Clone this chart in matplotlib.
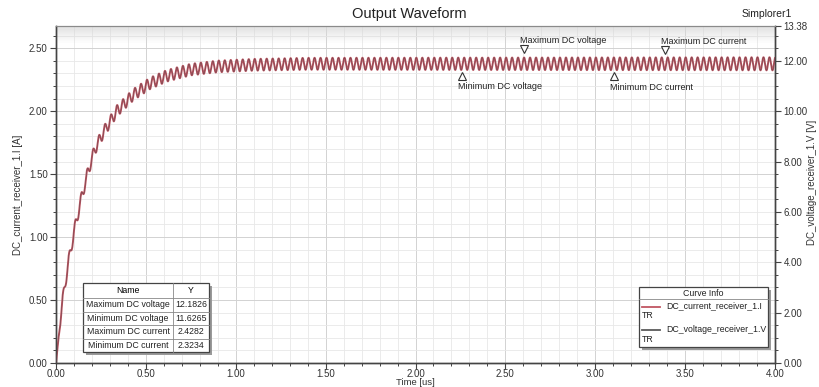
import numpy as np
import matplotlib.pyplot as plt
from matplotlib.ticker import MultipleLocator, FixedLocator
from matplotlib.transforms import ScaledTranslation
from matplotlib.patches import Rectangle

plt.rcParams['font.family'] = ['Liberation Sans', 'DejaVu Sans']

# mean level of the receiver current (time in us, current in A)
t_mean = [0, 0.032, 0.069, 0.106, 0.143, 0.18, 0.217, 0.263, 0.338, 0.43, 0.523,
          0.616, 0.75, 0.9, 1.1, 1.4, 4.0]
i_mean = [0, 0.45, 0.80, 1.08, 1.32, 1.53, 1.70, 1.83, 2.00, 2.13, 2.22,
          2.28, 2.33, 2.355, 2.368, 2.376, 2.376]
# ripple half amplitude (A) and period (us)
t_amp = [0, 0.03, 4.0]
i_amp = [0, 0.045, 0.052]
ripple_period = 0.0333
ripple_peak_t = 2.604
load_ratio = 5.0          # V / I, right axis 13.38 <-> left axis 2.676

# marker table
names = ['Maximum DC voltage', 'Minimum DC voltage', 'Maximum DC current', 'Minimum DC current']
yvals = [12.1826, 11.6265, 2.4282, 2.3234]
ytxt = ['12.1826', '11.6265', '2.4282', '2.3234']
mark_t = [2.604, 2.257, 3.388, 3.104]

t = np.linspace(0, 4, 9000)
base = np.interp(t, t_mean, i_mean)
amp = np.interp(t, t_amp, i_amp)
cur = base + amp * np.cos(2 * np.pi * (t - ripple_peak_t) / ripple_period)
volt = cur * load_ratio

fig = plt.figure(figsize=(8.19, 3.87), dpi=100)
ax = fig.add_axes([56/819, 1-363/387, 719/819, 337/387])
ax2 = ax.twinx()

vtop = 13.38
ax.set_xlim(0, 4)
ax.set_ylim(0, vtop / load_ratio)
ax2.set_ylim(0, vtop)

# light shading band along the top of the plot
nb = 14
for k in range(nb):
    ax.add_patch(Rectangle((0, 1 - (k + 1) * 0.0035), 1, 0.0035, transform=ax.transAxes,
                           facecolor='#d8d8d8', alpha=0.75 * (1 - k / nb), lw=0, zorder=2))

ax.xaxis.set_major_locator(MultipleLocator(0.5))
ax.xaxis.set_minor_locator(MultipleLocator(0.1))
ax.yaxis.set_major_locator(MultipleLocator(0.5))
ax.yaxis.set_minor_locator(MultipleLocator(0.1))
ax.grid(which='minor', color='#e8e8e8', lw=0.6, zorder=1)
ax.grid(which='major', color='#d2d2d2', lw=0.7, zorder=1)
ax.set_axisbelow(True)

ax.xaxis.set_major_formatter(lambda v, p: f'{v:.2f}')
ax.yaxis.set_major_formatter(lambda v, p: f'{v:.2f}')
ax2.yaxis.set_major_locator(FixedLocator([0, 2, 4, 6, 8, 10, 12, vtop]))
ax2.yaxis.set_minor_locator(MultipleLocator(0.5))
ax2.yaxis.set_major_formatter(lambda v, p: f'{v:.2f}')

for a in (ax, ax2):
    a.tick_params(which='major', length=4, width=0.8, color='#444444', labelsize=7,
                  labelcolor='#333333', pad=2)
    a.tick_params(which='minor', length=2.5, width=0.7, color='#444444')
    for s in ['left', 'bottom', 'right']:
        a.spines[s].set_color('#444444')
        a.spines[s].set_linewidth(1.0)
    a.spines['top'].set_color('#8a8a8a')
ax.tick_params(axis='x', which='major', pad=0.5)

ax.plot(t, cur, color='#c05662', lw=1.4, zorder=3)
ax2.plot(t, volt, color='#6a4850', lw=0.4, zorder=3)

ax.set_xlabel('Time [us]', fontsize=6.8, color='#333333', labelpad=-1)
ax.set_ylabel('DC_current_receiver_1.I [A]', fontsize=7, color='#333333', labelpad=4)
fig.text(0.991, 0.53, 'DC_voltage_receiver_1.V [V]', rotation=90, fontsize=7,
         color='#333333', ha='center', va='center')

fig.text(0.5, 0.965, 'Output Waveform', ha='center', va='center', fontsize=10.5, color='#222222')
fig.text(767/819, 1-14/387, 'Simplorer1', ha='center', va='center', fontsize=7.5, color='#222222')

# marker triangles and labels
mark_axes = [ax2, ax2, ax, ax]
for n, v, tm, a in zip(names, yvals, mark_t, mark_axes):
    up = n.startswith('Max')
    dy = 5 if up else -4
    off = ScaledTranslation(0, dy / 72, fig.dpi_scale_trans)
    a.plot([tm], [v], marker='v' if up else '^', ms=5.5, mfc='white', mec='#333333',
           mew=0.8, transform=a.transData + off, zorder=5, clip_on=False)
    a.annotate(n, (tm, v), xytext=(-3, 11 if up else -12), textcoords='offset points',
               fontsize=6.5, color='#222222', ha='left', va='center', zorder=6)

# overlay in pixel coords for table and legend
ov = fig.add_axes([0, 0, 1, 1], zorder=10)
ov.set_xlim(0, 819)
ov.set_ylim(387, 0)
ov.axis('off')

def box(x0, y0, x1, y1):
    ov.add_patch(Rectangle((x0 + 3, y0 + 3), x1 - x0, y1 - y0, color='#9a9a9a', lw=0))
    ov.add_patch(Rectangle((x0, y0), x1 - x0, y1 - y0, facecolor='white',
                           edgecolor='#444444', lw=0.9))

# table
tx0, tx1, tcol = 83, 209, 173
rows = [283, 298, 311.5, 325, 338.5, 352]
box(tx0, rows[0], tx1, rows[-1])
for r in rows[1:-1]:
    ov.plot([tx0, tx1], [r, r], color='#888888', lw=0.6)
ov.plot([tcol, tcol], [rows[0], rows[-1]], color='#888888', lw=0.6)
ov.text((tx0 + tcol) / 2, (rows[0] + rows[1]) / 2, 'Name', ha='center', va='center', fontsize=6.3)
ov.text((tcol + tx1) / 2, (rows[0] + rows[1]) / 2, 'Y', ha='center', va='center', fontsize=6.3)
for k, (n, s) in enumerate(zip(names, ytxt)):
    yc = (rows[k + 1] + rows[k + 2]) / 2
    ov.text((tx0 + tcol) / 2, yc, n, ha='center', va='center', fontsize=6.3, color='#222222')
    ov.text((tcol + tx1) / 2, yc, s, ha='center', va='center', fontsize=6.3, color='#222222')

# curve info legend
lx0, lx1, ly0, ly1 = 639, 768, 287, 347
box(lx0, ly0, lx1, ly1)
ov.plot([lx0, lx1], [299, 299], color='#888888', lw=0.6)
ov.text((lx0 + lx1) / 2, 293, 'Curve Info', ha='center', va='center', fontsize=6.3, color='#222222')
for yc, lab, col in [(307, 'DC_current_receiver_1.I', '#c05662'),
                     (330, 'DC_voltage_receiver_1.V', '#5a5a5a')]:
    ov.plot([642, 660], [yc, yc], color=col, lw=1.3)
    ov.text(666, yc - 1, lab, ha='left', va='center', fontsize=6.3, color='#222222')
    ov.text(642, yc + 9, 'TR', ha='left', va='center', fontsize=6.3, color='#222222')

fig.savefig('out.png', dpi=100)
